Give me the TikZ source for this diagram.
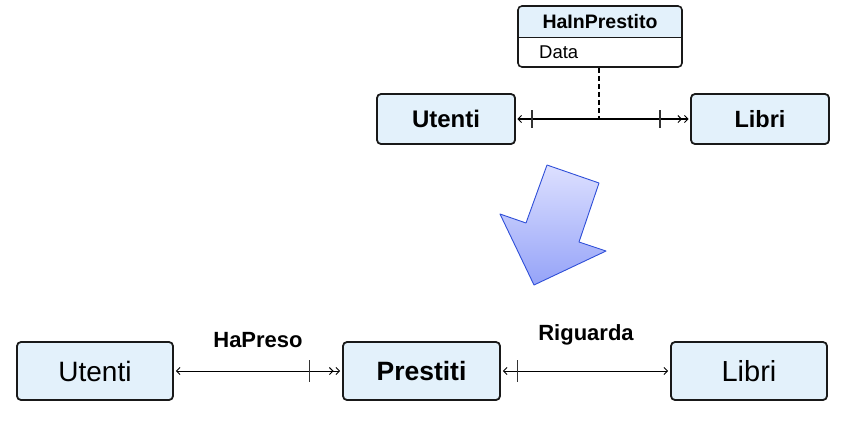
\documentclass[tikz,border=0pt]{standalone}
\usepackage{fontspec}
\setmainfont{Liberation Sans}
\usetikzlibrary{arrows.meta,calc}
\definecolor{boxfill}{HTML}{E3F1FB}
\definecolor{arrowtop}{HTML}{DDE0FF}
\definecolor{arrowbot}{HTML}{95A3F8}
\definecolor{arrowline}{HTML}{2F4FD8}
\tikzset{
  entity/.style={draw=black!90, line width=1.8pt, fill=boxfill, rounded corners=4pt, inner sep=0pt},
  conn/.style={line width=0.8pt, black},
  tickmark/.style={line width=1pt, black!80},
  lbl/.style={font=\bfseries\fontsize{22}{24}\selectfont, inner sep=0pt},
  sbarb/.tip={Straight Barb[length=3.5pt,width=7pt,line width=0.9pt]},
  dbarb/.tip={Straight Barb[length=3.5pt,width=7pt,line width=0.9pt,sep=2pt]Straight Barb[length=3.5pt,width=7pt,line width=0.9pt]},
}
\begin{document}
\begin{tikzpicture}[x=1pt,y=-1pt]
\useasboundingbox (0,0) rectangle (857,424);
% top
\node[entity, minimum width=138pt, minimum height=50pt, font=\bfseries\fontsize{24}{26}\selectfont] (u1) at (446,119) {Utenti};
\node[entity, minimum width=138pt, minimum height=50pt, font=\bfseries\fontsize{23.5}{26}\selectfont] (l1) at (760,119) {Libri};
% association class
\path[fill=white, rounded corners=4pt] (518,6) rectangle (682,67);
\fill[boxfill, rounded corners=3pt] (519,7) rectangle (681,37);
\fill[boxfill] (519,20) rectangle (681,37);
\draw[black!90, line width=1pt] (518,37) -- (682,37);
\draw[black!90, line width=1.6pt, rounded corners=4pt] (518,6) rectangle (682,67);
\node[font=\bfseries\fontsize{19.5}{21}\selectfont, inner sep=0pt] (hp) at (600,22) {HaInPrestito};
\node[font=\fontsize{18.5}{20}\selectfont, inner sep=0pt, anchor=west] (dt) at (539,52) {Data};
\coordinate (acb) at (599,67.8);
\coordinate (acj) at (599,119);
\draw[conn, line width=1.5pt, dash pattern=on 5pt off 3pt] (acb) -- (acj);
\draw[conn, line width=1.6pt, {sbarb}-{dbarb}] ($(u1.east)+(1.5,0)$) -- ($(l1.west)+(-1.5,0)$);
\draw[tickmark, line width=1.3pt] ($(u1.east)+(16,-9)$) -- ($(u1.east)+(16,9)$);
\draw[tickmark, line width=1.3pt] ($(l1.west)+(-30,-9)$) -- ($(l1.west)+(-30,9)$);
% big arrow
\shade[top color=arrowtop, bottom color=arrowbot] (547,165) -- (599,183) -- (579,242) -- (606,251) -- (534,285) -- (500,214) -- (526,223) -- cycle;
\draw[arrowline, line width=0.9pt, line join=round] (547,165) -- (599,183) -- (579,242) -- (606,251) -- (534,285) -- (500,214) -- (526,223) -- cycle;
% bottom
\node[entity, minimum width=156pt, minimum height=58pt, font=\fontsize{28}{30}\selectfont] (u2) at (95,371) {Utenti};
\node[entity, minimum width=157pt, minimum height=58pt, font=\bfseries\fontsize{26.5}{28}\selectfont] (p2) at (421.5,371) {Prestiti};
\node[entity, minimum width=156pt, minimum height=58pt, font=\fontsize{29}{31}\selectfont] (l2) at (749,371) {Libri};
\draw[conn, {sbarb}-{dbarb}] ($(u2.east)+(2,0)$) -- ($(p2.west)+(-2,0)$);
\draw[tickmark] ($(p2.west)+(-33,-11)$) -- ($(p2.west)+(-33,11)$);
\draw[conn, {sbarb}-{sbarb}] ($(p2.east)+(2,0)$) -- ($(l2.west)+(-2,0)$);
\draw[tickmark] ($(p2.east)+(17,-11)$) -- ($(p2.east)+(17,11)$);
\node[lbl] (hap) at (258,340) {HaPreso};
\node[lbl] (rig) at (586,335) {Riguarda};
\end{tikzpicture}
\end{document}
